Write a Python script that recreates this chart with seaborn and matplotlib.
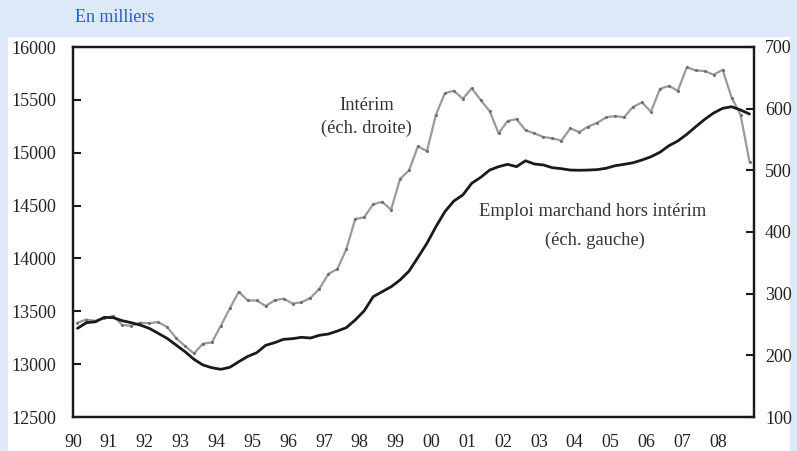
import numpy as np
import pandas as pd
import matplotlib
matplotlib.use("Agg")
import matplotlib.pyplot as plt
import seaborn as sns
from matplotlib.patches import Rectangle

# ---- data (quarterly, 1990Q1 .. 2008Q4) ----
quarters = pd.period_range("1990Q1", "2008Q4", freq="Q")

emploi = [13339, 13392, 13401, 13443, 13439, 13411, 13392, 13370, 13339, 13292,
          13244, 13181, 13118, 13046, 12992, 12966, 12951, 12970, 13023, 13073,
          13108, 13178, 13203, 13235, 13241, 13254, 13247, 13273, 13285, 13313,
          13345, 13418, 13505, 13638, 13685, 13732, 13796, 13880, 14010, 14143,
          14300, 14442, 14543, 14600, 14711, 14767, 14836, 14868, 14890, 14868,
          14924, 14893, 14884, 14858, 14849, 14836, 14834, 14836, 14840, 14853,
          14877, 14890, 14905, 14931, 14962, 15004, 15066, 15111, 15174, 15246,
          15316, 15376, 15420, 15435, 15404, 15366]

interim = [253, 258, 256, 260, 264, 249, 248, 253, 252, 254,
           246, 228, 215, 203, 219, 221, 248, 276, 303, 289,
           289, 280, 289, 292, 284, 286, 293, 308, 332, 340,
           372, 421, 424, 445, 449, 436, 486, 500, 539, 531,
           590, 625, 629, 616, 633, 614, 596, 560, 580, 583,
           565, 560, 554, 552, 548, 568, 562, 571, 577, 586,
           588, 586, 603, 610, 595, 632, 637, 629, 667, 662,
           661, 655, 663, 618, 590, 514]

year_ticks = list(range(1990, 2009))
year_labels = ["90", "91", "92", "93", "94", "95", "96", "97", "98", "99",
               "00", "01", "02", "03", "04", "05", "06", "07", "08"]
left_ticks = [12500, 13000, 13500, 14000, 14500, 15000, 15500, 16000]
right_ticks = [100, 200, 300, 400, 500, 600, 700]

df = pd.DataFrame({
    "t": quarters.year + (quarters.quarter - 0.5) / 4.0,
    "emploi": emploi,
    "interim": interim,
})

# ---- style ----
sns.set_style("white")
plt.rcParams["font.family"] = ["Liberation Serif", "DejaVu Serif"]

BG = "#dde9f8"
TXT = "#222222"

fig = plt.figure(figsize=(7.97, 4.51), dpi=100, facecolor=BG)
fig.patches.append(Rectangle((8 / 797, 0), (790 - 8) / 797, 1 - 37 / 451,
                             transform=fig.transFigure, facecolor="white",
                             edgecolor="none", zorder=-10))

ax = fig.add_axes([73 / 797, 1 - 417 / 451, (754 - 73) / 797, (417 - 47) / 451])
ax.set_facecolor("white")
ax2 = ax.twinx()

sns.lineplot(data=df, x="t", y="interim", ax=ax2, color="#9a9a9a", lw=1.6,
             marker="o", markersize=2.2, markeredgewidth=0,
             markerfacecolor="#6e6e6e")
sns.lineplot(data=df, x="t", y="emploi", ax=ax, color="#1a1a1a", lw=2.0)

# put black line above gray line
ax.set_zorder(2)
ax2.set_zorder(1)
ax.patch.set_visible(False)
ax2.patch.set_visible(True)
ax2.patch.set_facecolor("white")

ax.set_xlim(1990, 2009)
ax.set_ylim(12500, 16000)
ax2.set_ylim(100, 700)
ax.set_xticks(year_ticks)
ax.set_xticklabels(year_labels)
ax.set_yticks(left_ticks)
ax.set_yticklabels([str(v) for v in left_ticks])
ax2.set_yticks(right_ticks)
ax2.set_yticklabels([str(v) for v in right_ticks])

for a in (ax, ax2):
    a.set_xlabel("")
    a.set_ylabel("")
    for s in a.spines.values():
        s.set_color("#1a1a1a")
        s.set_linewidth(1.6)

ax.tick_params(axis="both", direction="in", length=6, width=1.5,
               colors="#1a1a1a", labelsize=13, labelcolor=TXT)
ax.tick_params(axis="y", pad=12)
ax.tick_params(axis="x", pad=12)
ax2.tick_params(axis="y", direction="in", length=6, width=1.5,
                colors="#1a1a1a", labelsize=13, labelcolor=TXT, pad=8)

# annotations
ax.text(1998.18, 15450, "Intérim", ha="center", va="center",
        fontsize=13.3, color="#333333")
ax.text(1998.18, 15234, "(éch. droite)", ha="center", va="center",
        fontsize=13.3, color="#333333")
ax.text(2004.5, 14440, "Emploi marchand hors intérim", ha="center",
        va="center", fontsize=13.3, color="#333333")
ax.text(2004.55, 14174, "(éch. gauche)", ha="center", va="center",
        fontsize=13.3, color="#333333")

fig.text(75 / 797, 1 - 18 / 451, "En milliers", ha="left", va="center",
         fontsize=13, color="#2a5bd0")

fig.savefig("out.png", dpi=100, facecolor=BG)
